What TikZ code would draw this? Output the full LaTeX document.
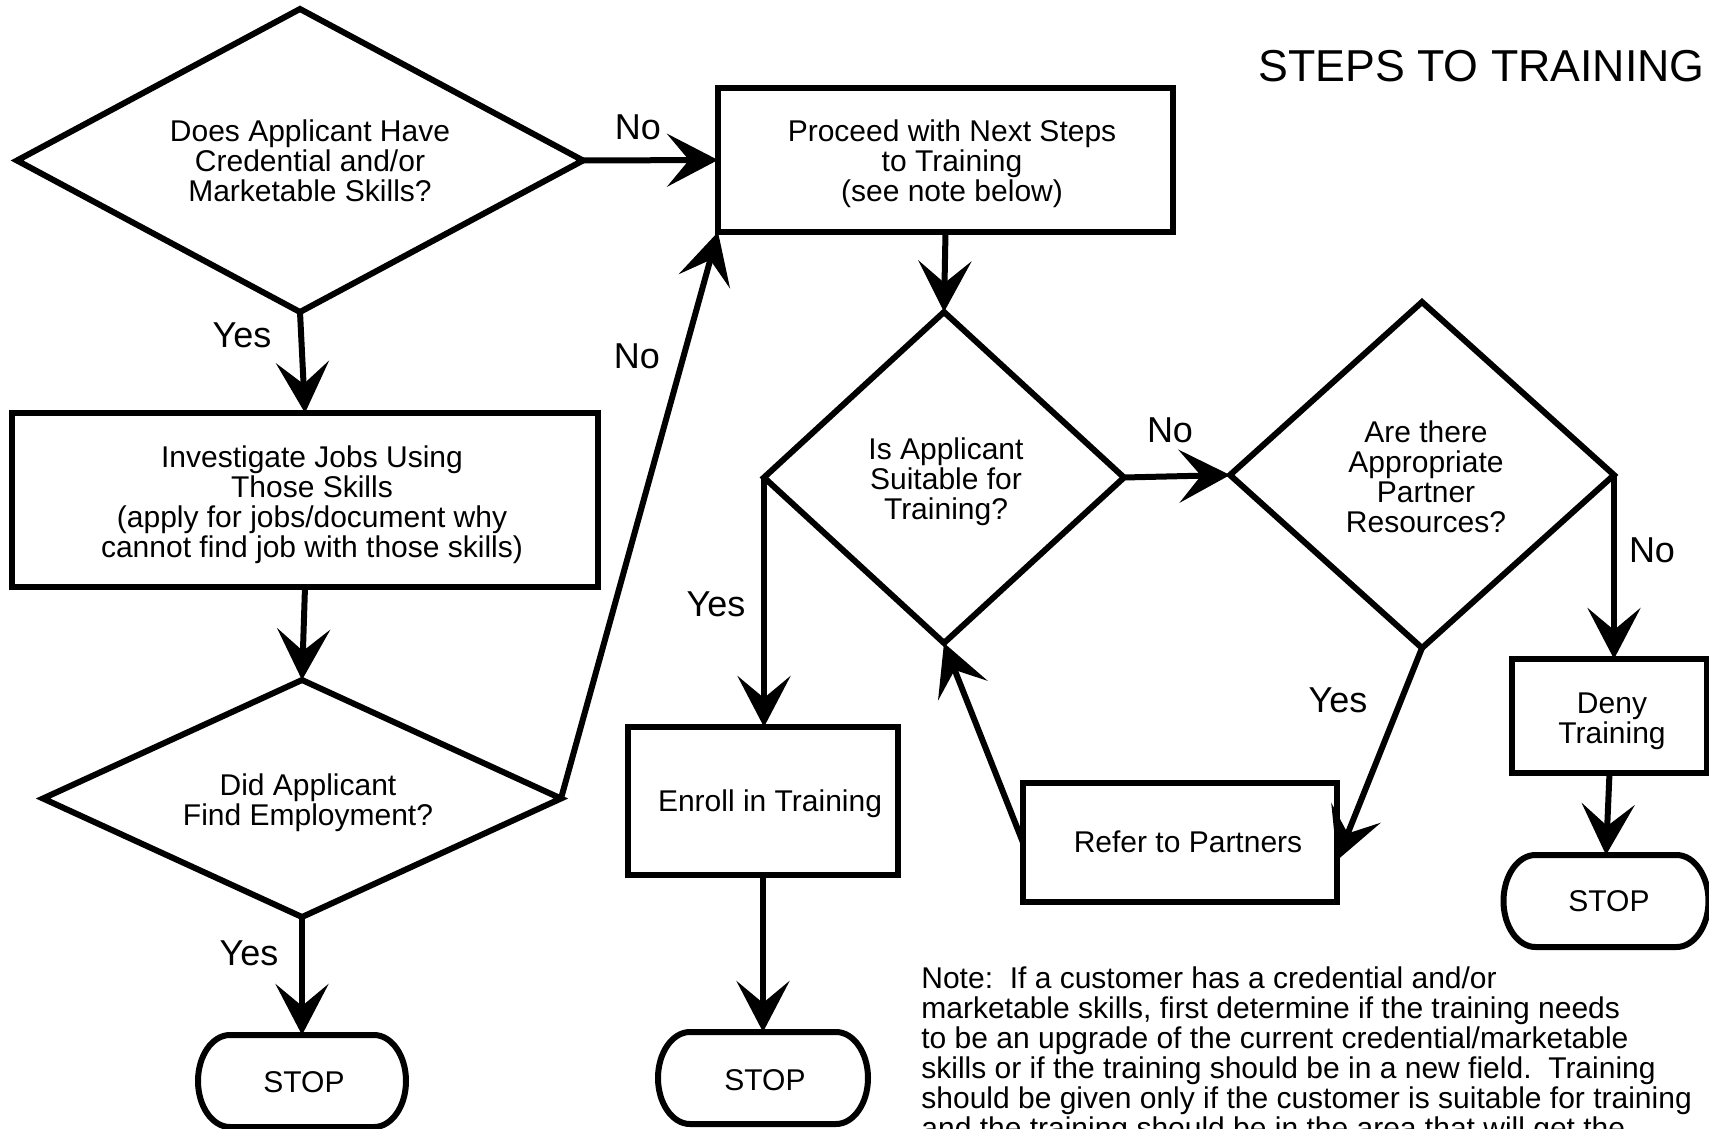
\documentclass[tikz,border=0pt]{standalone}
\usepackage{fontspec}
\setmainfont{Liberation Sans}
\usetikzlibrary{arrows.meta,shapes.geometric,calc}
\newcommand\txtfont{\fontsize{15pt}{15pt}\selectfont}
\newcommand\labfont{\fontsize{18pt}{18pt}\selectfont}
\newcommand\ttlfont{\fontsize{22.35pt}{24pt}\selectfont}
\newcommand\termoutline[1]{%
  \draw[lw] ([xshift=16pt]#1.north west) -- ([xshift=-16pt]#1.north east)
    .. controls ([xshift=-7.2pt]#1.north east) and ([yshift=12.7pt]#1.east) .. (#1.east)
    .. controls ([yshift=-12.7pt]#1.east) and ([xshift=-7.2pt]#1.south east) .. ([xshift=-16pt]#1.south east)
    -- ([xshift=16pt]#1.south west)
    .. controls ([xshift=7.2pt]#1.south west) and ([yshift=-12.7pt]#1.west) .. (#1.west)
    .. controls ([yshift=12.7pt]#1.west) and ([xshift=7.2pt]#1.north west) .. ([xshift=16pt]#1.north west) -- cycle;}
\begin{document}
\frenchspacing
\begin{tikzpicture}[x=0.5pt,y=-0.5pt,
  lw/.style={line width=3pt},
  boxnode/.style={draw, lw, rectangle, inner sep=0pt, outer sep=0pt},
  decision/.style={draw, lw, diamond, inner sep=0pt, outer sep=0pt},
  termnode/.style={rectangle, inner sep=0pt, outer sep=0pt},
  txt/.style={font=\txtfont, align=center, inner sep=0pt},
  lab/.style={font=\labfont, inner sep=0pt},
  arr/.style={lw, -{Stealth[length=25.5pt,width=26.5pt,inset=11pt]}},
]
\useasboundingbox (0,0) rectangle (1709,1129);
\clip (0,0) rectangle (1709,1129);
\fill[white] (0,0) rectangle (1709,1129);

% shapes
\node[decision, minimum width=283pt, minimum height=151.5pt] (d1) at (300,160.5) {};
\node[txt] (d1t) at (310,161) {Does Applicant Have\\Credential and/or\\Marketable Skills?};
\node[boxnode, minimum width=227.5pt, minimum height=72pt] (proceed) at (945.5,160) {};
\node[txt] (proceedt) at (952,164) {Proceed with Next Steps\\to Training\\(see note below)};
\node[boxnode, minimum width=293pt, minimum height=87pt] (inv) at (305,500) {};
\node[txt] (invt) at (312,505) {Investigate Jobs Using\\Those Skills\\(apply for jobs/document why\\cannot find job with those skills)};
\node[decision, minimum width=259pt, minimum height=118.5pt] (d2) at (302,798.5) {};
\node[txt] (d2t) at (308,803) {Did Applicant\\Find Employment?};
\node[termnode, minimum width=104pt, minimum height=46pt] (stop1) at (302,1081) {};
\node[txt] (stop1t) at (304,1082) {STOP};
\node[decision, minimum width=180pt, minimum height=165.5pt] (d3) at (944,477.5) {};
\node[txt] (d3t) at (946,482) {Is Applicant\\Suitable for\\Training?};
\node[boxnode, minimum width=135pt, minimum height=74pt] (enroll) at (763,801) {};
\node[txt] (enrollt) at (770,804) {Enroll in Training};
\node[termnode, minimum width=105pt, minimum height=46pt] (stop2) at (763,1078) {};
\node[txt] (stop2t) at (765,1080) {STOP};
\node[decision, minimum width=192pt, minimum height=173pt] (d4) at (1422,475) {};
\node[txt] (d4t) at (1426,477) {Are there\\Appropriate\\Partner\\Resources?};
\node[boxnode, minimum width=157pt, minimum height=59.5pt] (refer) at (1180,842.5) {};
\node[txt] (refert) at (1188,842) {Refer to Partners};
\node[boxnode, minimum width=97.5pt, minimum height=57pt] (deny) at (1609.5,716) {};
\node[txt] (denyt) at (1612,721) {Deny\\Training};
\node[termnode, minimum width=102.5pt, minimum height=46pt] (stop3) at (1606,901) {};
\node[txt] (stop3t) at (1609,901) {STOP};

\termoutline{stop1}
\termoutline{stop2}
\termoutline{stop3}

\coordinate (referR) at ($(refer.north east)!0.65!(refer.south east)$);

% connectors
\draw[arr] (d1.east) -- (proceed.west);
\draw[arr] (d1.south) -- (inv.north);
\draw[arr] (inv.south) -- (d2.north);
\draw[arr] (d2.east) -- (proceed.south west);
\draw[arr] (d2.south) -- (stop1.north);
\draw[arr] (proceed.south) -- (d3.north);
\draw[arr] (d3.west) -- (d3.west |- enroll.north);
\draw[arr] (enroll.south) -- (stop2.north);
\draw[arr] (d3.east) -- (d4.west);
\draw[arr] (d4.south) -- (referR);
\draw[arr] (refer.west) -- (d3.south);
\draw[arr] (d4.east) -- (d4.east |- deny.north);
\draw[arr] (deny.south) -- (stop3.north);

% labels
\node[lab] (l1) at (638,127) {No};
\node[lab] (l2) at (242,335) {Yes};
\node[lab] (l3) at (637,356) {No};
\node[lab] (l4) at (249,953) {Yes};
\node[lab] (l5) at (716,604) {Yes};
\node[lab] (l6) at (1170,430) {No};
\node[lab] (l7) at (1338,700) {Yes};
\node[lab] (l8) at (1652,550) {No};

\node[font=\ttlfont, anchor=base west, inner sep=0pt] (title) at (1258,82) {STEPS TO TRAINING};

\node[font=\txtfont, anchor=base west, inner sep=0pt] (note) at (921,988) {\vtop{%
\hbox{Note:\ \ If a customer has a credential and/or}%
\hbox{marketable skills, first determine if the training needs}%
\hbox{to be an upgrade of the current credential/marketable}%
\hbox{skills or if the training should be in a new field.\ \ Training}%
\hbox{should be given only if the customer is suitable for training}%
\hbox{and the training should be in the area that will get the}}};
\end{tikzpicture}
\end{document}
